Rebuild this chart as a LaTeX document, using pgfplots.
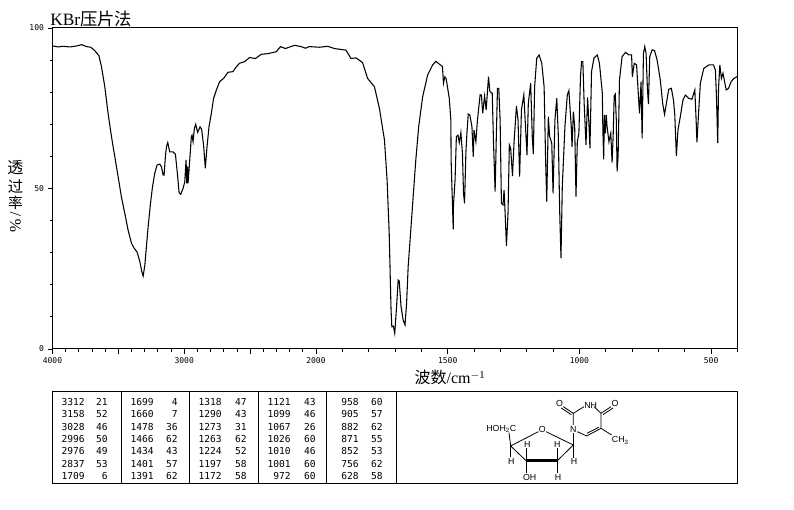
\documentclass[border=0pt]{standalone}
\usepackage{fontspec}
\usepackage{pgfplots}
\usepackage{pgfplotstable}
\pgfplotsset{compat=1.18}
\setmainfont{Liberation Serif}
\newfontfamily\cjk{Noto Sans CJK SC}
\newfontfamily\dmono{DejaVu Sans Mono}
\newfontfamily\dsans{Liberation Sans}
\pgfplotstableread{
w T
3999 94.4
3956 94.1
3918 94.3
3867 94.1
3817 94.4
3779 94.8
3741 94.2
3709 94.0
3678 92.9
3648 91.4
3628 87.9
3603 81.7
3578 73.4
3552 66.1
3527 59.9
3502 53.7
3477 47.4
3451 42.2
3426 37.0
3400 32.9
3383 31.6
3357 30.1
3337 27.2
3322 24.1
3312 22.7
3299 26.1
3287 31.9
3274 38.1
3256 45.4
3241 50.5
3224 54.7
3206 57.3
3186 57.6
3173 56.8
3160 54.2
3153 54.2
3143 59.9
3135 63.0
3125 64.3
3110 61.4
3085 61.4
3067 60.7
3052 54.7
3039 48.7
3027 48.2
3009 50.0
2996 52.1
2986 58.9
2981 51.6
2974 56.8
2971 51.6
2958 58.9
2946 66.1
2941 66.6
2933 64.6
2923 68.7
2913 70.0
2898 67.5
2880 69.2
2868 68.5
2852 63.0
2840 56.3
2827 63.0
2812 69.2
2794 73.4
2777 78.1
2756 80.7
2731 83.3
2701 84.3
2668 86.2
2630 86.4
2605 87.9
2580 89.0
2542 89.5
2504 90.8
2459 90.5
2416 91.8
2365 92.0
2302 92.6
2269 94.2
2232 93.6
2163 94.6
2113 94.2
2080 93.7
2050 94.2
1987 94.0
1955 94.3
1930 93.6
1886 93.1
1867 90.5
1848 90.7
1823 89.2
1804 84.3
1778 81.7
1759 74.9
1740 65.1
1730 52.6
1722 36.0
1715 12.1
1712 6.9
1706 7.1
1701 4.9
1694 13.2
1688 21.5
1684 21.2
1677 13.2
1669 9.0
1662 7.5
1656 14.2
1650 25.7
1640 37.1
1631 47.5
1621 58.9
1610 69.3
1595 78.6
1576 85.4
1557 88.5
1545 89.6
1520 88.0
1516 82.8
1511 84.8
1506 84.3
1494 78.1
1488 71.3
1487 58.9
1482 45.4
1479 37.3
1478 44.9
1472 52.7
1467 66.2
1461 66.6
1456 64.3
1450 67.4
1444 61.0
1440 48.5
1436 45.4
1431 61.0
1427 67.2
1422 73.2
1416 72.9
1408 69.3
1403 59.9
1400 68.2
1393 64.6
1387 71.3
1377 79.2
1372 79.1
1367 73.4
1360 78.8
1354 74.5
1350 79.1
1345 84.8
1340 80.2
1331 79.7
1326 64.1
1320 49.0
1316 64.1
1311 81.2
1306 81.2
1301 71.3
1296 45.4
1290 44.9
1286 49.5
1282 42.3
1277 32.1
1271 42.3
1266 63.6
1261 62.5
1254 53.9
1248 64.6
1239 75.7
1233 71.3
1227 53.7
1220 74.5
1211 79.2
1204 68.2
1199 60.4
1194 76.5
1185 82.8
1179 66.2
1175 60.7
1170 81.7
1162 90.6
1153 91.6
1143 89.0
1134 81.7
1128 57.8
1124 45.9
1118 72.4
1113 66.2
1105 64.1
1100 48.5
1093 71.3
1086 78.1
1080 66.2
1075 43.3
1070 28.3
1065 50.6
1055 69.3
1046 79.1
1040 80.5
1031 69.3
1028 63.0
1023 73.9
1018 69.3
1013 47.5
1008 64.6
1002 67.2
996 84.8
992 89.5
987 89.5
982 76.5
975 63.6
969 78.4
964 70.3
960 62.5
954 86.4
945 90.6
932 91.6
924 89.0
913 79.7
911 68.2
908 59.1
905 72.9
902 67.2
898 72.9
895 69.3
888 64.6
881 67.2
876 58.1
872 66.2
868 78.8
864 79.4
860 71.3
857 55.3
853 60.4
848 83.8
838 91.1
825 92.4
812 91.6
802 91.6
799 84.8
792 89.0
783 88.5
777 80.2
772 73.4
766 83.3
762 65.6
757 92.1
752 94.2
747 92.1
742 81.2
738 76.3
733 91.1
724 93.2
715 93.0
705 90.0
693 83.8
684 76.5
677 73.1
670 76.5
661 80.9
651 81.2
643 77.6
638 72.9
632 60.1
626 68.2
617 72.4
607 77.6
598 79.1
585 78.1
573 77.8
562 80.7
557 71.3
554 64.4
547 74.5
541 82.8
528 87.4
509 88.5
491 88.5
484 86.9
480 79.1
475 64.1
472 81.2
467 88.5
461 84.3
455 85.9
449 83.3
443 80.7
434 81.2
424 83.3
414 84.3
406 84.6
400 85.0
}\spectrum
\begin{document}
\begin{tikzpicture}[x=0.75pt,y=0.75pt]
\path[use as bounding box,fill=white] (0,0) rectangle (794,510);
\begin{axis}[
  at={(39.375pt,120.75pt)},anchor=south west,
  scale only axis,width=513.75pt,height=240.75pt,
  xmin=0,xmax=5200,ymin=0,ymax=100,
  axis line style={line width=0.75pt},
  tick style={black,line width=0.6pt},
  tick align=outside,
  xtick pos=bottom,ytick pos=left,
  major tick length=3.4pt,
  minor tick length=2pt,
  xtick={0,1000,2000,3000,4000,5000},
  xticklabels={4000,3000,2000,1500,1000,500},
  extra x ticks={500,1500},
  extra x tick labels={},
  minor xtick={100,200,300,400,600,700,800,900,1100,1200,1300,1400,1600,1700,1800,1900,2200,2400,2600,2800,3200,3400,3600,3800,4200,4400,4600,4800,5200},
  ytick={0,50,100},
  yticklabels={0,50,100},
  minor ytick={10,20,30,40,60,70,80,90},
  tick label style={font=\dmono\fontsize{6}{6}\selectfont},
  x tick label style={yshift=0.8pt},
  y tick label style={xshift=0.5pt},
]
\addplot[black,line width=0.8pt,sharp plot,no markers]
  table[x expr={\thisrow{w}>=2000 ? 4000-\thisrow{w} : 6000-2*\thisrow{w}},y=T] {\spectrum};
\end{axis}
\begin{scope}[yshift=382.5pt,y=-0.75pt]
\node[anchor=south west,inner sep=0pt,font=\fontsize{13}{14}\selectfont] at (50,27) {KBr{\cjk 压片法}};
\node[anchor=base,inner sep=0pt,font=\fontsize{12}{13}\selectfont] at (450,384) {{\cjk 波数}/cm\textsuperscript{$-$1}};
\node[inner sep=0pt,font=\cjk\fontsize{12}{13}\selectfont] at (15.5,168) {透};
\node[inner sep=0pt,font=\cjk\fontsize{11.5}{13}\selectfont] at (15.5,187) {过};
\node[inner sep=0pt,font=\cjk\fontsize{11}{13}\selectfont] at (15.5,203) {率};
\node[inner sep=0pt,rotate=90,font=\fontsize{12}{13}\selectfont] at (15.5,222) {\%\,/};
% table frame
\draw[line width=0.75pt] (52,392) rectangle (737,484);
\foreach \x in {121,189,258,326,396} \draw[line width=0.75pt] (\x,392) -- (\x,484);
\foreach \col/\ax/\bx/\rows in {
 1/85/108/{3312/21,3158/52,3028/46,2996/50,2976/49,2837/53,1709/6},
 2/154/178/{1699/4,1660/7,1478/36,1466/62,1434/43,1401/57,1391/62},
 3/222/247/{1318/47,1290/43,1273/31,1263/62,1224/52,1197/58,1172/58},
 4/291/316/{1121/43,1099/46,1067/26,1026/60,1010/46,1001/60,972/60},
 5/359/383/{958/60,905/57,882/62,871/55,852/53,756/62,628/58}}{
  \foreach \a/\b [count=\i from 0] in \rows {
    \node[anchor=east,inner sep=0pt,font=\dmono\fontsize{7.2}{8}\selectfont] at (\ax,402+12.33*\i) {\a};
    \node[anchor=east,inner sep=0pt,font=\dmono\fontsize{7.2}{8}\selectfont] at (\bx,402+12.33*\i) {\b};
  }
}
\end{scope}
% structure, in the reference's zoomed pixel units
\begin{scope}[yshift=382.5pt-292.5pt,xshift=330pt,x=0.25pt,y=-0.25pt,line width=0.6pt]
\draw (212,168)--(295,125) (318,125)--(400,165)--(352,212) (258,212)--(212,168)--(207,128);
\draw[line width=1.9pt] (352,212)--(258,212);
\draw (212,168)--(212,200) (258,212)--(258,175) (258,212)--(258,248)
 (352,212)--(352,175) (352,212)--(352,248) (400,165)--(400,203) (400,165)--(400,130);
\draw (400,105)--(400,70)--(432,50) (462,50)--(483,70)--(483,115)--(440,138)--(412,125);
\draw (476,112)--(441,130) (483,115)--(515,135);
\draw (400,70)--(370,50) (394,74)--(364,54);
\draw (483,70)--(513,50) (489,74)--(519,54);
\tikzset{atom/.style={inner sep=0pt,font=\dsans\fontsize{6.6}{7}\selectfont}}
\node[atom] at (184,116) {HOH\textsubscript{2}C};
\node[atom] at (307,118) {O};
\node[atom] at (400,117) {N};
\node[atom] at (452,45) {NH};
\node[atom] at (359,39) {O};
\node[atom] at (525,39) {O};
\node[atom] at (541,151) {CH\textsubscript{3}};
\node[atom] at (214,213) {H};
\node[atom] at (262,163) {H};
\node[atom] at (352,163) {H};
\node[atom] at (402,213) {H};
\node[atom] at (269,261) {OH};
\node[atom] at (354,261) {H};
\end{scope}
\end{tikzpicture}
\end{document}
